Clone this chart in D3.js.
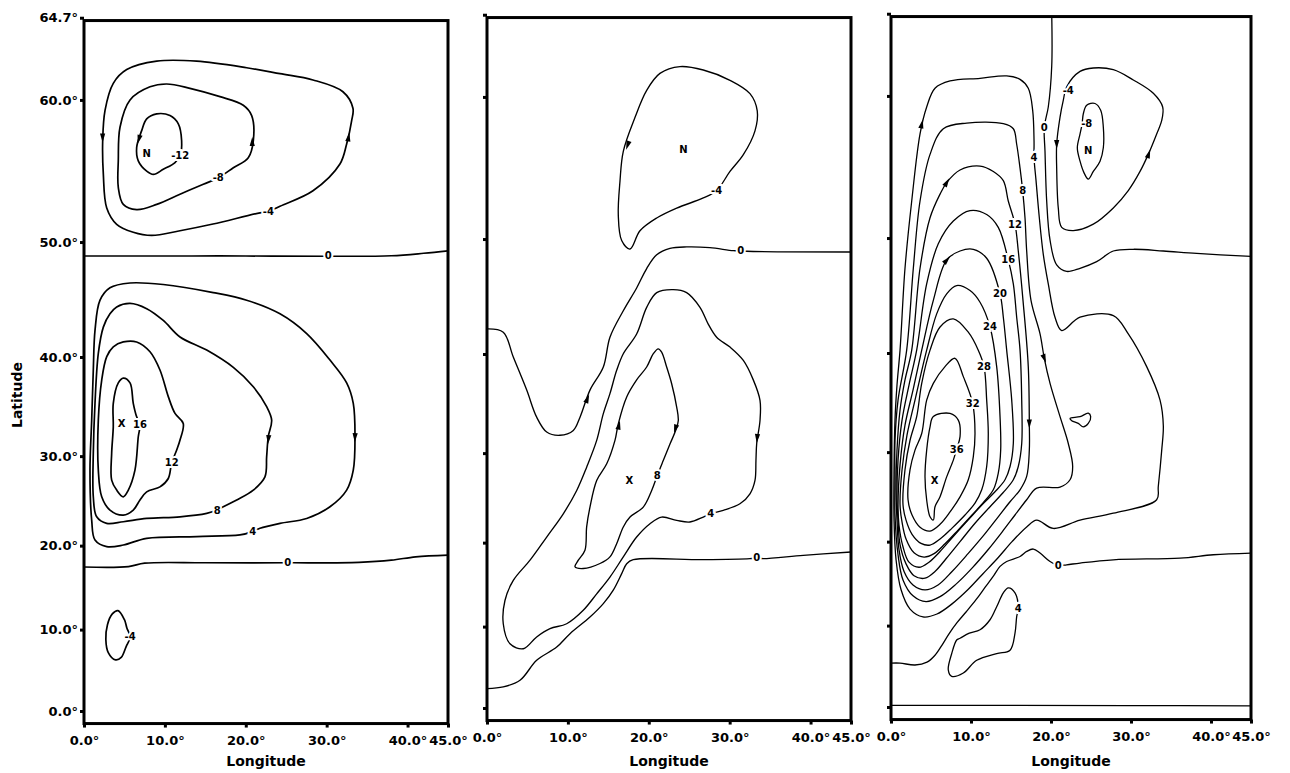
<!DOCTYPE html>
<html><head><meta charset="utf-8">
<script src="https://cdn.jsdelivr.net/npm/d3@7/dist/d3.min.js"></script>
<style>body{margin:0;background:#fff}svg{display:block}</style>
</head><body>
<svg id="chart" width="1290" height="773"></svg>
<script>
// ---------- axis ticks ----------
const lonTicks = [0, 10, 20, 30, 40, 45];
const lonTickLabels = ["0.0°", "10.0°", "20.0°", "30.0°", "40.0°", "45.0°"];
const latTicks = [0, 10, 20, 30, 40, 50, 60, 64.7];
const latTickLabels = ["0.0°", "10.0°", "20.0°", "30.0°", "40.0°", "50.0°", "60.0°", "64.7°"];
const latMin = -1.55, latMax = 64.55, lonMin = 0, lonMax = 45;

// ---------- panel 1 contours [lon, lat] ----------
const p1_m4 = [[8.99,62.31],[5.28,61.82],[3.62,61.01],[2.60,59.35],[2.31,57.38],[2.39,55.09],[2.81,52.63],[4.04,51.39],[6.09,50.77],[8.37,50.52],[11.87,50.89],[15.95,51.41],[21.76,52.26],[22.8,52.35],[24.23,52.76],[28.31,53.9],[31.64,55.8],[32.47,57.17],[33.09,58.7],[33.25,59.48],[32.01,60.5],[28.31,61.21],[24.23,61.58],[20.11,61.93],[13.93,62.31]];
const p1_m8 = [[4.24,56.02],[4.45,58.27],[5.69,60.0],[8.16,60.8],[10.22,60.97],[13.1,60.71],[16.81,60.2],[19.69,59.67],[20.73,59.02],[20.93,57.38],[20.31,56.24],[18.46,55.54],[16.6,54.83],[14.75,54.37],[11.87,53.65],[8.99,52.9],[6.51,52.51],[4.86,52.9],[4.24,54.14]];
const p1_m12 = [[12.07,57.38],[11.66,58.49],[10.63,59.02],[8.99,59.13],[7.75,58.81],[7.13,58.05],[6.51,56.93],[6.71,56.02],[7.75,55.3],[8.57,55.07],[9.8,55.43],[11.25,55.9],[11.9,56.4]];
const p1_zeroN = [[0,48.88],[10,48.88],[20,48.88],[30,48.86],[38,48.9],[42,49.1],[45,49.3]];
const p1_zeroS = [[0,17.5],[5.5,17.55],[7.5,17.95],[15,18.0],[25,18.0],[34,18.05],[38,18.3],[41,18.7],[45,18.9]];
const p1_16 = [[4.86,37.98],[5.69,37.51],[6.09,35.48],[6.51,34.11],[6.92,33.33],[6.71,32.05],[6.3,28.49],[5.48,26.3],[4.86,25.56],[4.04,26.3],[3.42,27.4],[3.42,30.3],[3.62,33.08],[3.62,35.48],[4.24,37.51]];
const p1_12 = [[4.86,41.41],[6.51,41.41],[8.16,40.49],[9.39,38.76],[10.42,36.15],[11.25,34.46],[12.27,33.43],[11.87,31.7],[11.46,30.65],[10.84,29.28],[10.42,27.58],[9.39,26.66],[7.75,26.11],[6.92,25.2],[6.09,24.07],[4.86,23.5],[3.21,24.07],[2.19,25.56],[1.77,28.49],[1.77,33.77],[2.19,37.79],[2.81,40.03],[3.62,40.95]];
const p1_8 = [[4.04,44.57],[5.69,44.88],[7.75,44.42],[9.8,43.37],[11.87,41.87],[15.17,40.65],[18.46,39.01],[20.93,37.13],[22.58,35.14],[23.2,33.77],[22.78,32.05],[22.58,29.94],[22.37,27.76],[20.93,26.3],[18.88,25.2],[17.22,24.44],[16.48,24.07],[15.17,23.7],[11.87,23.31],[7.75,23.12],[4.86,22.75],[2.81,22.56],[1.57,23.31],[1.15,25.56],[1.15,30.3],[1.36,35.48],[1.77,40.34],[2.39,42.77],[3.21,43.96]];
const p1_4 = [[3.21,46.23],[5.69,46.64],[9.8,46.51],[15.98,45.82],[20.11,45.16],[24.23,43.96],[27.53,42.18],[30.41,39.71],[32.47,37.51],[33.29,35.48],[33.5,32.05],[33.29,28.49],[32.47,26.3],[30.41,24.44],[27.53,23.12],[24.23,22.56],[21.76,22.0],[20.85,21.62],[19.28,21.24],[13.93,21.05],[7.75,20.85],[4.86,20.07],[2.81,19.88],[1.36,20.65],[0.95,22.94],[0.74,28.49],[0.95,33.77],[1.15,38.76],[1.36,42.47],[1.98,45.16]];
const p1_m4s = [[4.2,12.3],[5.0,11.2],[5.3,10.2],[5.7,9.1],[5.2,7.9],[4.6,6.6],[3.9,6.3],[3.0,7.2],[2.7,8.8],[2.9,10.6],[3.5,11.9]];
const p1Labels = [[11.9,56.4,"-12"],[16.6,54.83,"-8"],[22.8,52.35,"-4"],[30.2,48.88,"0"],[25.2,18.0,"0"],[6.92,33.33,"16"],[10.84,29.28,"12"],[16.48,24.07,"8"],[20.85,21.62,"4"],[5.7,9.1,"-4"]];
const p1Marks = [[7.75,56.5,"N"],[4.66,33.4,"X"]];
const p1Arrows = [[2.3,57.6,2.3,56.6],[32.7,57.6,33.0,58.5],[20.8,57.3,20.8,58.3],[6.8,57.5,6.5,56.9],[22.8,31.8,22.7,30.8],[33.5,32.0,33.45,31.0]];

// ---------- panel 2 contours ----------
const p2_m4 = [[23.86,61.82],[26.74,61.62],[30.04,61.01],[32.51,60.2],[33.41,59.13],[33.13,57.84],[31.69,56.24],[30.04,55.07],[28.39,53.7],[26.74,53.15],[23.45,52.39],[20.98,51.64],[18.91,50.65],[17.68,49.2],[16.65,49.88],[16.23,51.88],[16.44,54.37],[16.85,56.47],[18.29,58.7],[19.74,60.4],[21.38,61.42]];
const p2_zeroN = [[45,48.96],[32.1,49.02],[31.36,49.07],[30.45,49.07],[27.56,49.31],[24.68,49.37],[22.62,49.25],[20.98,48.73],[19.74,47.6],[18.5,45.96],[16.85,43.97],[15.2,41.57],[14.38,38.76],[12.73,36.5],[11.5,33.77],[10.67,32.4],[9.02,31.89],[7.38,32.23],[6.14,33.77],[4.91,36.5],[3.25,39.71],[2.01,42.03],[0,42.33]];
const p2_4 = [[23.03,45.82],[20.98,45.56],[19.74,44.27],[18.5,41.87],[16.85,40.03],[16.03,38.44],[15.2,36.15],[14.38,34.13],[13.56,31.35],[12.32,28.49],[11.09,25.93],[9.43,23.31],[7.38,20.65],[5.32,17.95],[3.25,15.56],[2.22,13.16],[2.01,10.35],[2.84,7.91],[4.49,7.3],[6.14,8.74],[7.79,9.75],[9.85,10.35],[11.9,11.98],[13.56,13.96],[15.2,15.96],[16.85,18.34],[18.5,20.65],[20.15,22.18],[21.59,22.94],[23.45,22.56],[25.09,22.38],[26.74,22.94],[27.65,23.31],[29.21,23.7],[31.27,24.44],[32.51,25.56],[33.13,27.04],[33.25,29.21],[33.34,31.0],[33.75,33.43],[33.75,35.48],[32.92,37.51],[31.69,39.39],[30.04,40.65],[28.39,41.57],[27.35,42.77],[26.33,44.27],[24.68,45.56]];
const p2_8 = [[21.17,40.49],[21.59,40.18],[22.21,38.76],[22.83,37.13],[23.45,34.8],[23.65,33.43],[23.32,32.38],[22.62,30.97],[21.79,29.21],[21.05,27.58],[20.36,25.93],[19.32,24.07],[17.68,22.94],[16.85,21.81],[16.03,19.88],[15.2,18.34],[13.97,17.56],[11.9,16.97],[10.88,17.17],[11.29,17.95],[12.11,19.11],[12.32,21.81],[12.73,24.07],[13.56,27.04],[14.8,28.85],[15.82,31.35],[16.23,33.08],[17.27,35.82],[18.5,37.51],[19.74,38.76],[20.56,40.03]];
const p2_zeroS = [[45,18.91],[39.1,18.52],[34.15,18.13],[33.34,18.21],[32.51,18.13],[26.74,18.01],[18.08,18.01],[17.27,17.54],[16.65,16.36],[15.61,14.4],[14.38,12.78],[12.73,11.16],[10.26,9.14],[8.62,7.5],[6.14,5.88],[4.08,3.42],[2.01,2.6],[0,2.39]];
const p2Labels = [[28.39,53.7,"-4"],[31.36,49.07,"0"],[21.05,27.58,"8"],[27.65,23.31,"4"],[33.34,18.21,"0"]];
const p2Marks = [[24.27,56.6,"N"],[17.6,27.0,"X"]];
const p2Arrows = [[17.4,56.9,16.9,56.1],[12.4,35.6,12.9,36.6],[33.4,31.6,33.3,30.6],[23.3,32.6,22.8,31.2],[16.3,32.9,16.6,34.0]];

// ---------- panel 3 contours ----------
const p3_4 = [[0.38,28.1],[0.5,33.37],[0.75,36.9],[1.13,40.27],[1.75,47.54],[2.59,52.85],[3.63,57.57],[4.46,59.31],[5.5,60.47],[7.38,60.91],[11.13,61.07],[14.46,61.21],[16.13,61.01],[17.16,60.47],[17.71,59.1],[17.88,57.1],[17.88,55.95],[18.13,54.34],[18.54,51.58],[19.04,48.67],[19.66,46.22],[20.5,43.3],[21.34,42.09],[23.63,43.3],[27.79,43.45],[29.66,41.79],[31.96,38.7],[33.63,35.4],[34.04,32.77],[33.84,30.21],[33.41,26.26],[33.21,24.78],[27.79,23.26],[23.63,22.47],[20.29,21.52],[18.21,22.47],[16.96,21.7],[15.13,20.0],[13.38,18.12],[11.5,16.24],[9.63,14.35],[7.63,12.63],[5.75,11.41],[4.0,11.06],[2.38,12.0],[1.25,14.35],[0.63,17.9],[0.38,22.47]];
const p3_8 = [[0.5,27.0],[0.5,31.26],[0.88,35.4],[1.96,40.27],[2.79,47.54],[3.63,52.85],[4.88,56.19],[6.54,57.91],[9.46,58.28],[14.04,58.24],[15.29,57.91],[15.71,56.88],[16.13,55.23],[16.46,53.6],[16.75,51.58],[16.96,48.96],[17.5,44.8],[18.63,41.79],[19.16,39.5],[19.88,37.07],[21.13,33.72],[22.16,30.92],[22.71,28.45],[22.38,27.0],[21.13,26.19],[18.21,26.08],[16.96,24.78],[15.5,23.06],[13.88,21.11],[12.13,19.06],[10.13,16.9],[8.13,15.0],[6.13,13.5],[4.38,12.9],[2.75,13.6],[1.5,15.5],[0.88,18.47],[0.5,23.06]];
const p3_12 = [[0.63,25.89],[0.75,30.21],[1.13,34.4],[1.75,37.4],[2.59,40.27],[3.63,47.54],[4.88,51.58],[6.13,53.36],[6.96,54.2],[8.63,55.1],[11.13,55.38],[12.79,55.0],[14.04,54.34],[14.66,52.85],[15.5,51.09],[15.91,48.96],[16.5,44.8],[17.16,38.7],[17.29,33.02],[17.29,30.21],[16.96,27.37],[16.13,25.89],[14.88,24.56],[13.38,22.82],[11.63,20.78],[9.63,18.6],[7.63,16.5],[5.88,14.9],[4.25,14.3],[2.75,14.9],[1.63,16.5],[1.0,19.06],[0.75,22.47]];
const p3_16 = [[0.75,24.78],[0.88,29.16],[1.38,33.37],[2.25,36.9],[3.21,40.27],[4.46,46.22],[5.91,49.54],[7.79,51.33],[9.88,52.13],[11.96,51.83],[13.41,50.84],[14.66,48.23],[15.29,46.22],[15.71,43.3],[16.13,40.27],[16.34,35.4],[16.34,30.92],[15.91,28.45],[15.29,27.0],[14.0,25.56],[12.38,24.0],[10.5,22.12],[8.63,20.0],[6.88,18.0],[5.5,16.5],[4.25,15.7],[2.88,16.0],[1.88,17.4],[1.13,19.65],[0.88,22.47]];
const p3_20 = [[0.88,24.22],[1.13,28.63],[1.75,32.84],[2.75,36.4],[3.84,40.27],[5.29,44.8],[6.96,48.23],[8.63,48.96],[10.29,49.1],[11.96,48.37],[13.63,45.37],[14.04,43.3],[14.46,40.27],[15.09,35.4],[15.29,30.92],[14.88,28.45],[14.25,27.0],[13.0,25.67],[11.38,24.22],[9.63,22.47],[7.75,20.56],[6.13,18.85],[4.75,17.6],[3.5,17.0],[2.25,17.6],[1.5,19.4],[1.0,21.89]];
const p3_24 = [[1.13,24.22],[1.38,28.1],[2.0,31.79],[3.0,35.4],[4.46,40.27],[5.71,43.6],[6.96,45.37],[8.21,46.08],[9.88,45.65],[11.13,44.63],[12.38,42.42],[13.21,38.7],[13.63,33.72],[13.71,30.21],[13.41,27.74],[12.79,25.89],[11.63,24.56],[10.13,23.06],[8.38,21.33],[6.75,19.75],[5.38,18.6],[4.13,18.2],[2.88,18.7],[1.88,20.3],[1.38,22.24]];
const p3_28 = [[1.5,24.22],[1.75,28.1],[2.38,31.26],[3.21,33.72],[3.84,37.07],[4.88,40.27],[6.13,42.42],[7.79,43.15],[9.66,41.94],[10.91,40.27],[11.63,38.7],[11.96,35.4],[12.16,31.97],[11.96,28.45],[11.34,25.89],[10.5,24.41],[9.25,23.06],[7.63,21.56],[6.13,20.3],[4.88,19.6],[3.75,19.8],[2.63,20.85],[1.88,22.47]];
const p3_32 = [[2.13,24.78],[2.38,28.1],[3.0,30.21],[3.84,31.97],[4.46,35.4],[5.29,37.07],[6.75,38.7],[8.0,39.5],[9.04,37.73],[10.21,35.07],[10.5,31.97],[10.29,29.51],[9.66,27.0],[8.63,25.11],[7.38,23.41],[6.13,22.0],[4.88,21.22],[3.63,21.67],[2.63,23.06]];
const p3_36 = [[5.29,33.74],[7.38,34.05],[8.41,33.36],[8.63,31.64],[8.21,30.33],[7.79,29.14],[6.96,27.32],[6.13,25.12],[5.5,24.0],[5.29,22.49],[4.88,22.86],[4.46,24.75],[4.25,27.32],[4.46,30.22],[4.88,32.67]];
const p3_zeroN = [[20.09,64.7],[20.09,61.78],[19.66,59.31],[19.16,58.02],[19.25,56.41],[19.46,52.85],[19.88,49.83],[20.71,47.82],[21.96,47.28],[23.63,47.54],[25.71,48.09],[27.79,48.96],[30.29,49.1],[34.04,48.96],[38.21,48.76],[45,48.52]];
const p3_m4 = [[21.96,60.56],[23.63,61.48],[25.29,61.68],[27.79,61.58],[30.29,60.97],[32.79,60.16],[33.96,59.31],[33.84,58.45],[33.21,57.57],[32.16,56.19],[31.13,55.0],[29.66,53.62],[27.79,52.33],[25.29,51.09],[22.79,50.59],[21.34,50.84],[20.91,52.33],[20.71,55.23],[20.71,56.88],[21.13,58.67],[21.54,59.74]];
const p3_m8 = [[23.88,58.2],[23.63,57.57],[23.29,56.64],[23.63,55.72],[24.13,54.9],[24.66,54.45],[25.29,55.0],[26.13,55.72],[26.54,56.64],[26.54,58.02],[26.21,59.1],[25.5,59.53],[24.46,59.42],[24.04,58.88]];
const p3_zeroS = [[45,18.67],[40.29,18.47],[36.13,18.08],[27.79,17.88],[23.63,17.5],[21.96,17.29],[20.91,17.21],[19.88,17.68],[18.63,18.67],[17.79,19.14],[16.96,18.86],[16.13,18.27],[14.46,17.68],[13.63,17.1],[12.75,15.88],[11.75,14.6],[10.63,13.13],[9.38,11.65],[8.25,10.35],[7.25,9.0],[6.38,7.63],[5.5,6.38],[4.5,5.53],[3.0,5.18],[1.13,5.41],[0,5.41]];
const p3_4s = [[8.21,8.25],[7.59,6.59],[7.16,4.59],[7.59,3.79],[9.04,4.2],[10.71,5.76],[13.21,6.59],[14.88,7.0],[15.5,9.09],[15.71,11.09],[15.91,12.09],[15.5,13.96],[14.66,14.56],[14.04,13.96],[13.21,12.29],[12.38,10.71],[11.13,9.5],[9.79,9.09],[8.63,8.46]];
const p3_blob = [[22.38,33.55],[23.63,33.72],[24.66,34.07],[24.96,33.72],[24.66,33.02],[24.04,32.66],[23.41,33.02],[22.59,33.3]];
const p3_zeroEq = [[0,0.2],[15,0.2],[30,0.18],[45,0.15]];
const p3Labels = [[19.16,58.02,"0"],[17.88,55.95,"4"],[16.46,53.6,"8"],[15.5,51.09,"12"],[14.66,48.23,"16"],[13.63,45.37,"20"],[12.38,42.42,"24"],[11.63,38.7,"28"],[10.21,35.07,"32"],[8.21,30.33,"36"],[22.16,60.36,"-4"],[24.46,58.28,"-8"],[20.91,17.21,"0"],[15.91,12.09,"4"]];
const p3Marks = [[5.45,26.9,"X"],[24.66,56.46,"N"]];
const p3Arrows = [[3.84,58.2,4.2,59.0],[6.96,54.2,7.6,54.8],[6.96,48.2,7.8,48.8],[19.16,39.5,19.6,38.6],[17.29,33.0,17.29,32.0],[32.2,56.2,32.7,57.0],[20.71,56.9,20.71,56.0]];

// ---------- assembly ----------
const panelContours = [
  [[p1_m4,true],[p1_m8,true],[p1_m12,true],[p1_zeroN,false],[p1_zeroS,false],[p1_16,true],[p1_12,true],[p1_8,true],[p1_4,true],[p1_m4s,true]],
  [[p2_m4,true],[p2_zeroN,false],[p2_4,true],[p2_8,true],[p2_zeroS,false]],
  [[p3_4,true],[p3_8,true],[p3_12,true],[p3_16,true],[p3_20,true],[p3_24,true],[p3_28,true],[p3_32,true],[p3_36,true],[p3_zeroN,false],[p3_m4,true],[p3_m8,true],[p3_zeroS,false],[p3_4s,true],[p3_blob,true],[p3_zeroEq,false]]
];
const panelLabels = [p1Labels, p2Labels, p3Labels];
const panelMarks = [p1Marks, p2Marks, p3Marks];
const panelArrows = [p1Arrows, p2Arrows, p3Arrows];

const layout = [
  {left: 84, right: 448, y0: 711, sw: 1.7},
  {left: 487, right: 851, y0: 708, sw: 1.35},
  {left: 891, right: 1251, y0: 707, sw: 1.3}
];
const K = 464;
const FONT = "'DejaVu Sans', sans-serif";
const merc = lat => Math.log(Math.tan(Math.PI / 4 + lat * Math.PI / 360));

const svg = d3.select("#chart");

layout.forEach((L, pi) => {
  const x = d3.scaleLinear().domain([lonMin, lonMax]).range([L.left, L.right]);
  const ym = d3.scaleLinear().domain([0, 1]).range([L.y0, L.y0 - K]);
  const y = lat => ym(merc(lat));
  const top = y(latMax), bottom = y(latMin);
  const g = svg.append("g");

  const clipId = "clip" + pi;
  svg.append("clipPath").attr("id", clipId).append("rect")
    .attr("x", L.left).attr("y", top).attr("width", L.right - L.left).attr("height", bottom - top);

  const cg = g.append("g").attr("clip-path", `url(#${clipId})`);
  panelContours[pi].forEach(([pts, closed]) => {
    const line = d3.line().x(d => x(d[0])).y(d => y(d[1]))
      .curve(closed ? d3.curveCatmullRomClosed.alpha(0.5) : d3.curveCatmullRom.alpha(0.5));
    cg.append("path").attr("d", line(pts)).attr("fill", "none")
      .attr("stroke", "#000").attr("stroke-width", L.sw).attr("stroke-linejoin", "round");
  });

  // arrows
  panelArrows[pi].forEach(a => {
    const px = x(a[0]), py = y(a[1]);
    let dx = x(a[2]) - px, dy = y(a[3]) - py;
    const n = Math.hypot(dx, dy); dx /= n; dy /= n;
    const nx = -dy, ny = dx;
    const tip = [px + dx * 5, py + dy * 5];
    const b1 = [px - dx * 4 + nx * 2.6, py - dy * 4 + ny * 2.6];
    const b2 = [px - dx * 4 - nx * 2.6, py - dy * 4 - ny * 2.6];
    cg.append("path").attr("d", `M${tip}L${b1}L${b2}Z`).attr("fill", "#000");
  });

  // contour labels (white halo breaks the line)
  cg.selectAll("text.lab").data(panelLabels[pi]).join("text")
    .attr("class", "lab")
    .attr("x", d => x(d[0])).attr("y", d => y(d[1]))
    .attr("text-anchor", "middle").attr("dominant-baseline", "central")
    .attr("font-family", FONT).attr("font-weight", "bold").attr("font-size", 10)
    .attr("stroke", "#fff").attr("stroke-width", 4).attr("paint-order", "stroke")
    .attr("fill", "#000").text(d => d[2]);

  // N / X markers
  cg.selectAll("text.mark").data(panelMarks[pi]).join("text")
    .attr("class", "mark")
    .attr("x", d => x(d[0])).attr("y", d => y(d[1]))
    .attr("text-anchor", "middle").attr("dominant-baseline", "central")
    .attr("font-family", FONT).attr("font-weight", "bold").attr("font-size", 10)
    .attr("fill", "#000").text(d => d[2]);

  // frame
  g.append("rect").attr("x", L.left).attr("y", top)
    .attr("width", L.right - L.left).attr("height", bottom - top)
    .attr("fill", "none").attr("stroke", "#000").attr("stroke-width", 3);

  // x axis
  const xa = g.append("g").attr("transform", `translate(0,${bottom})`)
    .call(d3.axisBottom(x).tickValues(lonTicks).tickFormat((d, i) => lonTickLabels[i]).tickSize(4).tickPadding(8));
  xa.select(".domain").remove();
  xa.selectAll(".tick line").attr("stroke-width", 3);
  xa.selectAll(".tick text").attr("font-family", FONT).attr("font-weight", "bold").attr("font-size", 13).attr("fill", "#000");

  // y axis
  const ya = g.append("g").attr("transform", `translate(${L.left},0)`)
    .call(d3.axisLeft(ym).tickValues(latTicks.map(merc)).tickFormat((d, i) => pi === 0 ? latTickLabels[i] : "").tickSize(4).tickPadding(2));
  ya.select(".domain").remove();
  ya.selectAll(".tick line").attr("stroke-width", 3);
  ya.selectAll(".tick text").attr("font-family", FONT).attr("font-weight", "bold").attr("font-size", 13).attr("fill", "#000");

  // x title
  g.append("text").attr("x", (L.left + L.right) / 2).attr("y", 766)
    .attr("text-anchor", "middle").attr("font-family", FONT).attr("font-weight", "bold")
    .attr("font-size", 14).text("Longitude");
});

svg.append("text").attr("transform", "translate(22,395) rotate(-90)")
  .attr("text-anchor", "middle").attr("font-family", FONT).attr("font-weight", "bold")
  .attr("font-size", 14).text("Latitude");
</script>
</body></html>
